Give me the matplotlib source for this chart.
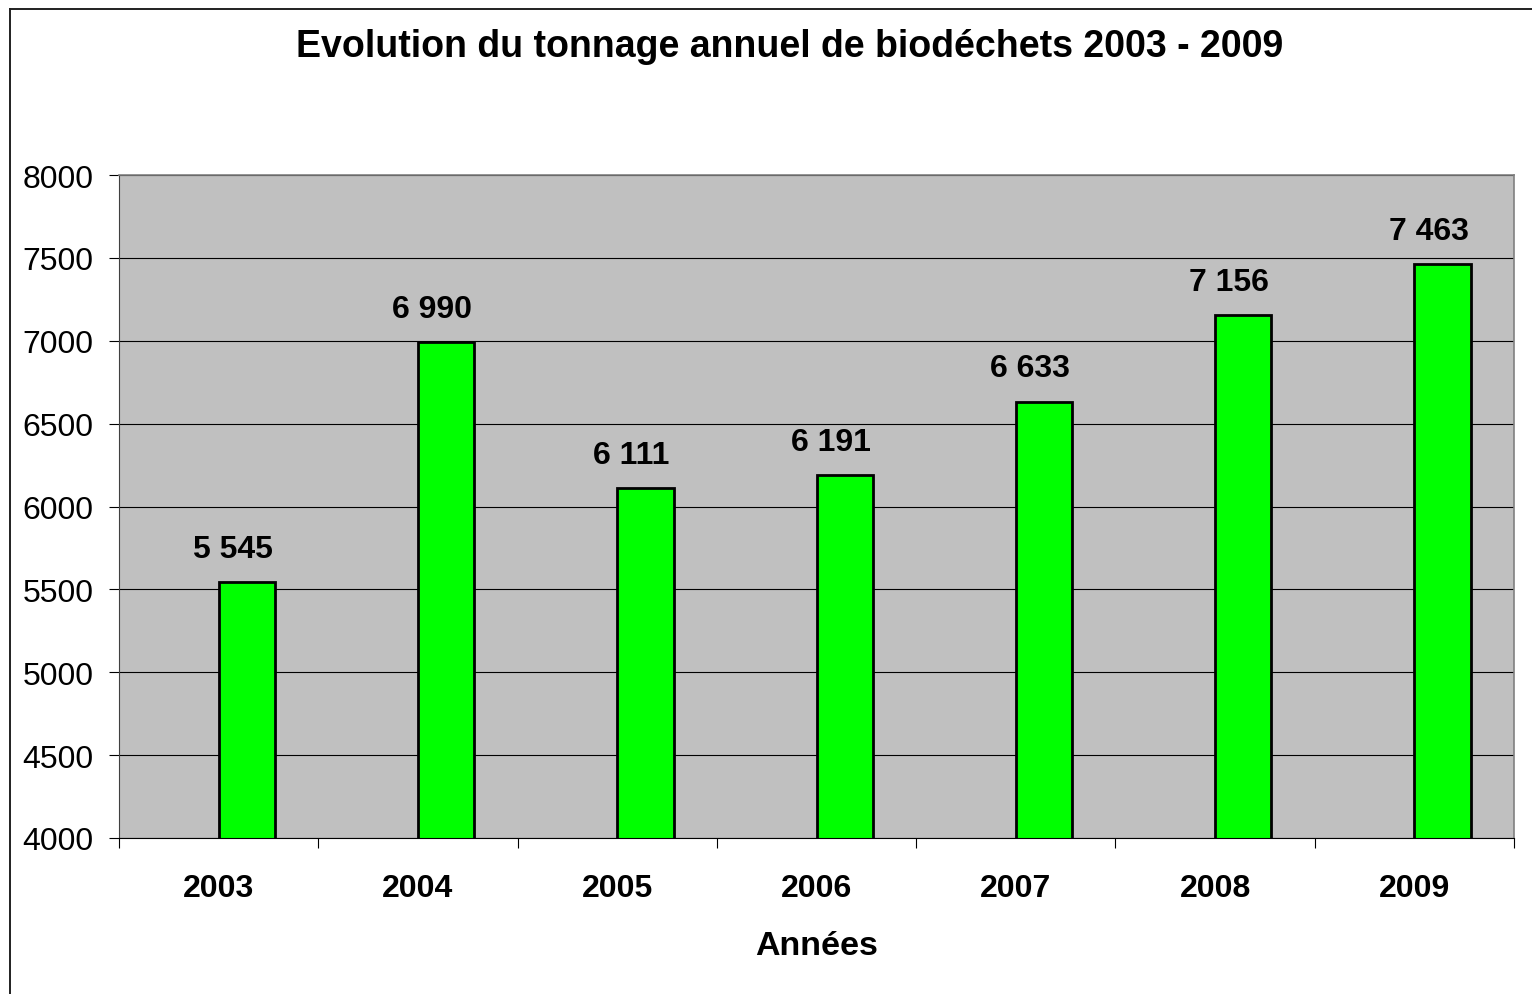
import matplotlib
matplotlib.use("Agg")
from matplotlib import pyplot as plt
from matplotlib.lines import Line2D
import numpy as np

plt.rcParams["font.family"] = ["Liberation Sans", "DejaVu Sans"]

annees = ["2003", "2004", "2005", "2006", "2007", "2008", "2009"]
tonnage = [5545, 6990, 6111, 6191, 6633, 7156, 7463]
etiquettes = ["5 545", "6 990", "6 111", "6 191", "6 633", "7 156", "7 463"]

fig = plt.figure(figsize=(15.32, 9.95), dpi=100)
ax = fig.add_axes([119 / 1532, 1 - 839 / 995, (1514 - 119) / 1532, (839 - 176) / 995])
ax.set_facecolor("#c0c0c0")

x = np.arange(len(annees)) + 0.5
largeur = 0.283
ax.bar(x, tonnage, width=largeur, align="edge", color="#00ff00",
       edgecolor="black", linewidth=2.0, zorder=3)

for xi, v, t in zip(x, tonnage, etiquettes):
    ax.text(xi + 0.072, v + 110, t, ha="center", va="bottom",
            fontsize=23, fontweight="bold", zorder=4)

ax.set_xlim(0, 7)
ax.set_ylim(4000, 8000)
ax.set_yticks(np.arange(4000, 8001, 500))
ax.yaxis.grid(True, color="black", linewidth=0.8, zorder=1)

ax.set_xticks(np.arange(0, 8))
ax.set_xticklabels([])
ax.set_xticks(x, minor=True)
ax.set_xticklabels(annees, minor=True, fontsize=23, fontweight="bold")
ax.tick_params(axis="x", which="major", length=7.2, width=0.8, direction="out")
ax.tick_params(axis="x", which="minor", length=0, pad=25)
ax.tick_params(axis="y", length=7.2, width=0.8, pad=11, labelsize=23)

for s in ["top", "right"]:
    ax.spines[s].set_color("#808080")
    ax.spines[s].set_linewidth(1.2)
ax.spines["left"].set_color("#404040")
ax.spines["bottom"].set_color("black")
ax.spines["bottom"].set_zorder(5)

ax.set_xlabel("Années", fontsize=24.5, fontweight="bold", labelpad=20)

fig.text(790 / 1532, 1 - 47 / 995, "Evolution du tonnage annuel de biodéchets 2003 - 2009",
         ha="center", va="center", fontsize=27, fontweight="bold")

# cadre du graphique (seuls bords gauche et haut visibles)
fig.add_artist(Line2D([10 / 1532, 10 / 1532], [0, 1 - 10 / 995], color="#202020", linewidth=1.4))
fig.add_artist(Line2D([10 / 1532, 1], [1 - 10 / 995, 1 - 10 / 995], color="#202020", linewidth=1.4))

plt.savefig("out.png", dpi=100)
